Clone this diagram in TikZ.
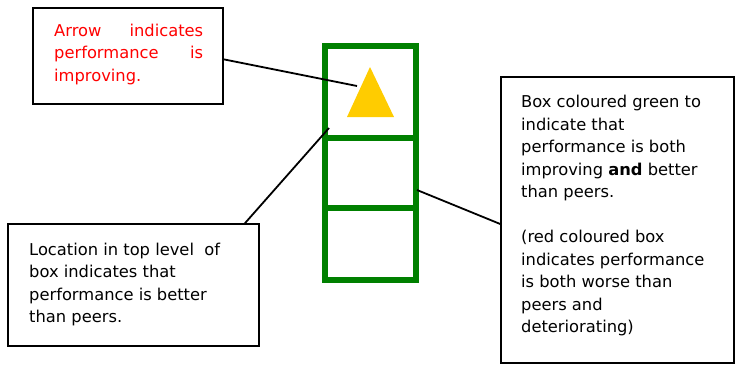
\documentclass[tikz,border=0pt]{standalone}
\usepackage{fontspec}
\setmainfont{DejaVu Sans}
\usepackage{tikz}
\definecolor{boxgreen}{HTML}{008000}
\definecolor{arrowgold}{HTML}{FFCC00}
\tikzset{
  note/.style={rectangle,draw,line width=1.5pt},
  notetext/.style={anchor=north west,inner sep=0pt,font=\fontsize{16.3}{22.5}\selectfont},
  cell/.style={rectangle,draw=boxgreen,line width=6pt,minimum width=91pt},
  link/.style={line width=1.8pt}
}

\begin{document}
\begin{tikzpicture}[x=1pt,y=-1pt]
\useasboundingbox (0,0) rectangle (736,365);

\node (arrowbox) at (128,56)[note,minimum width=190pt,minimum height=96pt] {};
\node (arrowtxt) at (54,23.6)[notetext,text=red,align=justify,text width=149pt] {Arrow indicates performance is improving.};

\node (locbox) at (133.5,285)[note,minimum width=251pt,minimum height=122pt] {};
\node (loctxt) at (29,242.6)[notetext,align=left] {Location in top level\ \ of\\box indicates that\\performance is better\\than peers.};

\node (colbox) at (617.5,220)[note,minimum width=233pt,minimum height=286pt] {};
\node (coltxt) at (521,95)[notetext,align=left] {Box coloured green to\\indicate that\\performance is both\\improving \textbf{and} better\\than peers.\\[22.5pt](red coloured box\\indicates performance\\is both worse than\\peers and\\deteriorating)};

\node (top) at (370.5,92)[cell,minimum height=92pt] {};
\node (mid) at (370.5,172.75)[cell,minimum height=69.5pt] {};
\node (low) at (370.5,243.5)[cell,minimum height=72pt] {};

\fill[arrowgold] (370,67) -- (394,117) -- (347,117) -- cycle;
\coordinate (trend) at (357,86);
\coordinate (topedge) at (329,128);
\coordinate (midedge) at (417,190);

\draw[link] (arrowbox.-2) -- (trend);
\draw[link] (locbox.29) -- (topedge);
\draw[link] (midedge) -- ([yshift=-4pt]colbox.west);
\end{tikzpicture}
\end{document}
